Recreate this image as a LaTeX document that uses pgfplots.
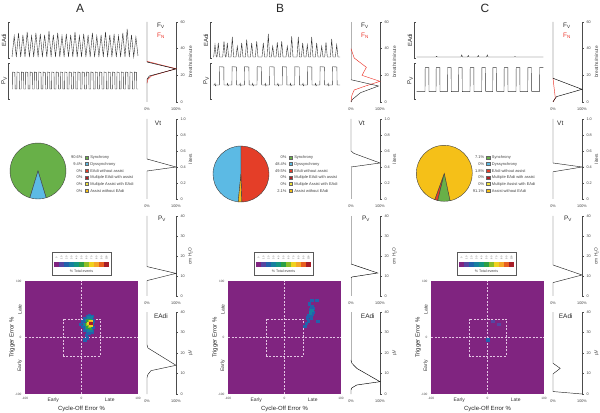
\documentclass[border=0pt]{standalone}
\usepackage{pgfplots}
\pgfplotsset{compat=1.18}
\usepackage{fontspec}
\setmainfont{Liberation Sans}
\definecolor{hpurple}{RGB}{128,36,128}
\definecolor{pgreen}{RGB}{104,176,72}
\definecolor{pblue}{RGB}{92,186,228}
\definecolor{pred}{RGB}{228,62,40}
\definecolor{pdred}{RGB}{176,32,36}
\definecolor{pyel}{RGB}{240,226,60}
\definecolor{porange}{RGB}{245,192,24}
\definecolor{fnred}{RGB}{235,50,40}
\definecolor{dashcol}{RGB}{228,196,228}
\definecolor{ev0}{RGB}{128,36,128}
\definecolor{ev1}{RGB}{86,70,162}
\definecolor{ev2}{RGB}{34,98,172}
\definecolor{ev3}{RGB}{22,128,160}
\definecolor{ev4}{RGB}{20,150,130}
\definecolor{ev5}{RGB}{44,160,70}
\definecolor{ev6}{RGB}{140,190,40}
\definecolor{ev7}{RGB}{240,210,30}
\definecolor{ev8}{RGB}{245,168,40}
\definecolor{ev9}{RGB}{232,96,32}
\definecolor{ev10}{RGB}{168,30,40}
\newcommand\tk{\fontsize{3.8}{4}\selectfont}
\tikzset{
 lg/.style={font=\fontsize{4}{4.5}\selectfont, text=black!75, inner sep=0.6bp},
 ew/.style={font=\fontsize{5}{6}\selectfont, text=black!80, inner sep=0pt},
 big/.style={font=\fontsize{6.5}{7}\selectfont, text=black!85, inner sep=0pt},
 cl/.style={font=\fontsize{2.4}{2.6}\selectfont, text=black!70, rotate=90, inner sep=0pt},
 dashl/.style={dash pattern=on 2bp off 1.5bp, dashcol, line width=0.5bp},
}
\pgfplotsset{
 /pgf/number format/assume math mode=true,
 trace/.style={scale only axis, width=132bp, height=36bp, xmin=0, xmax=132, ymin=0, ymax=36,
   axis x line=none, axis y line=left, axis line style={-, black!70, line width=0.5bp},
   ytick={0,36}, yticklabels={}, tick align=inside, major tick length=2bp,
   ytick style={black!70, line width=0.5bp},
   ylabel style={font=\fontsize{6}{7}\selectfont, text=black!85, at={(axis description cs:-0.03,0.5)}, anchor=center},
   clip=false, no markers, cycle list={{black!80, line width=0.3bp}}},
 dist/.style={scale only axis, width=29bp, xmin=0, xmax=100,
   axis y line=right, axis x line=bottom, x axis line style={draw=none},
   xtick={0,100}, xticklabels={0\%,100\%}, xtick style={draw=none},
   xticklabel style={yshift=-1bp},
   ytick align=outside, major tick length=1.8bp, ytick style={black!70, line width=0.4bp},
   y axis line style={-, black!70, line width=0.4bp},
   tick label style={font=\tk, text=black!75},
   yticklabel style={xshift=-0.8bp},
   ylabel style={font=\fontsize{4.8}{5}\selectfont, text=black!75, at={(axis description cs:1.5,0.5)}, anchor=center},
   clip=false, no markers, cycle list={{black!85, line width=0.45bp}},
   every axis plot/.append style={line width=0.45bp}},
 heat/.style={scale only axis, width=113bp, height=113bp, xmin=-100, xmax=100, ymin=-100, ymax=100,
   axis background/.style={fill=hpurple}, axis line style={draw=none},
   xtick={-100,0,100}, ytick={-100,0,100}, major tick length=0pt,
   tick label style={font=\fontsize{3.2}{3.5}\selectfont, text=black!70},
   xlabel={Cycle-Off Error \%}, ylabel={Trigger Error \%},
   label style={font=\fontsize{6}{7}\selectfont, text=black!85},
   xlabel style={at={(axis description cs:0.5,-0.133)}, anchor=center},
   ylabel style={at={(axis description cs:-0.115,0.5)}, anchor=center},
   clip=false},
 hs/.style={only marks, mark=square*, mark size=1.2bp, mark options={draw=#1, fill=#1}},
 cbar/.style={scale only axis, width=59bp, height=23bp, xmin=0, xmax=59, ymin=0, ymax=23,
   xtick=\empty, ytick=\empty, axis line style={black!65, line width=0.6bp}, clip=false},
 cb/.style={only marks, mark=square*, mark size=2bp, mark options={draw=#1, fill=#1}},
}
\newcommand\heatextras{%
 \addplot[dashl] coordinates {(0,-100) (0,100)};
 \addplot[dashl] coordinates {(-100,0) (100,0)};
 \addplot[dashl] coordinates {(-33,-33) (33,-33) (33,33) (-33,33) (-33,-33)};
 \node[ew, rotate=90] at (axis cs:-109,50) {Late};
 \node[ew, rotate=90] at (axis cs:-109,-50) {Early};
 \node[ew] at (axis cs:-50,-110.5) {Early};
 \node[ew] at (axis cs:50,-110.5) {Late};
}
\newcommand\cbarleg[2]{%
\begin{axis}[cbar, at={(#1bp,#2bp)}, anchor=south west]
 \addplot[cb=ev0] coordinates {(4.5,10.3)};
 \addplot[cb=ev1] coordinates {(9.5,10.3)};
 \addplot[cb=ev2] coordinates {(14.5,10.3)};
 \addplot[cb=ev3] coordinates {(19.5,10.3)};
 \addplot[cb=ev4] coordinates {(24.5,10.3)};
 \addplot[cb=ev5] coordinates {(29.5,10.3)};
 \addplot[cb=ev6] coordinates {(34.5,10.3)};
 \addplot[cb=ev7] coordinates {(39.5,10.3)};
 \addplot[cb=ev8] coordinates {(44.5,10.3)};
 \addplot[cb=ev9] coordinates {(49.5,10.3)};
 \addplot[cb=ev10] coordinates {(54.5,10.3)};
 \node[cl] at (axis cs:4.5,17.3) {0};
 \node[cl] at (axis cs:9.5,17.3) {10};
 \node[cl] at (axis cs:14.5,17.3) {20};
 \node[cl] at (axis cs:19.5,17.3) {30};
 \node[cl] at (axis cs:24.5,17.3) {40};
 \node[cl] at (axis cs:29.5,17.3) {50};
 \node[cl] at (axis cs:34.5,17.3) {60};
 \node[cl] at (axis cs:39.5,17.3) {70};
 \node[cl] at (axis cs:44.5,17.3) {80};
 \node[cl] at (axis cs:49.5,17.3) {90};
 \node[cl] at (axis cs:54.5,17.3) {100};
 \node[font=\fontsize{3.6}{4}\selectfont, text=black!75] at (axis cs:29.5,3.6) {\% Total events};
\end{axis}}
\newcommand\pielegend[9]{%
 \addplot[only marks, mark=square*, mark size=1.6bp, mark options={draw=black!60, fill=pgreen, line width=0.2bp}] coordinates {(#2,255.7)};
 \addplot[only marks, mark=square*, mark size=1.6bp, mark options={draw=black!60, fill=pblue, line width=0.2bp}] coordinates {(#2,249)};
 \addplot[only marks, mark=square*, mark size=1.6bp, mark options={draw=black!60, fill=pred, line width=0.2bp}] coordinates {(#2,242.3)};
 \addplot[only marks, mark=square*, mark size=1.6bp, mark options={draw=black!60, fill=pdred, line width=0.2bp}] coordinates {(#2,235.7)};
 \addplot[only marks, mark=square*, mark size=1.6bp, mark options={draw=black!60, fill=pyel, line width=0.2bp}] coordinates {(#2,229)};
 \addplot[only marks, mark=square*, mark size=1.6bp, mark options={draw=black!60, fill=porange, line width=0.2bp}] coordinates {(#2,222.3)};
 \node[lg, anchor=east] at (axis cs:#1,255.7) {#4};
 \node[lg, anchor=east] at (axis cs:#1,249) {#5};
 \node[lg, anchor=east] at (axis cs:#1,242.3) {#6};
 \node[lg, anchor=east] at (axis cs:#1,235.7) {#7};
 \node[lg, anchor=east] at (axis cs:#1,229) {#8};
 \node[lg, anchor=east] at (axis cs:#1,222.3) {#9};
 \node[lg, anchor=west] at (axis cs:#3,255.7) {Synchrony};
 \node[lg, anchor=west] at (axis cs:#3,249) {Dyssynchrony};
 \node[lg, anchor=west] at (axis cs:#3,242.3) {EAdi without assist};
 \node[lg, anchor=west] at (axis cs:#3,235.7) {Multiple EAdi with assist};
 \node[lg, anchor=west] at (axis cs:#3,229) {Multiple Assist with EAdi};
 \node[lg, anchor=west] at (axis cs:#3,222.3) {Assist without EAdi};
}
\newcommand\pieslice[5]{% center x, center y, start, end, colour
 \filldraw[fill=#5, draw=black!75, line width=0.4bp] (axis cs:#1,#2) -- ++(#3:28bp) arc[start angle=#3, end angle=#4, radius=28bp] -- cycle;}
\begin{document}
\begin{tikzpicture}
\useasboundingbox (0,0) rectangle (600bp,413bp);
% ---------------- canvas: titles, pies, pie legends
\begin{axis}[x=1bp, y=1bp, xmin=0, xmax=600, ymin=0, ymax=413, hide axis, anchor=south west, at={(0bp,0bp)}, clip=false]
 \node[font=\fontsize{12}{14}\selectfont, text=black!85] at (axis cs:80,405) {A};
 \node[font=\fontsize{12}{14}\selectfont, text=black!85] at (axis cs:280,405) {B};
 \node[font=\fontsize{12}{14}\selectfont, text=black!85] at (axis cs:485,405) {C};
 \pieslice{38}{242}{286.92}{613.08}{pgreen}
 \pieslice{38}{242}{253.08}{286.92}{pblue}
 \pieslice{241}{239}{90}{264.24}{pblue}
 \pieslice{241}{239}{264.24}{271.8}{porange}
 \pieslice{241}{239}{271.8}{450}{pred}
 \pieslice{444.3}{239.7}{250}{256.48}{pred}
 \pieslice{444.3}{239.7}{256.48}{282.04}{pgreen}
 \pieslice{444.3}{239.7}{282.04}{610}{porange}
 \pielegend{83.3}{86.3}{89.5}{90.6\%}{9.4\%}{0\%}{0\%}{0\%}{0\%}
 \pielegend{287.3}{290.3}{293.5}{0\%}{48.4\%}{49.5\%}{0\%}{0\%}{2.1\%}
 \pielegend{485}{488}{491.2}{7.1\%}{0\%}{1.8\%}{0\%}{0\%}{91.1\%}
\end{axis}
% ---------------- traces A
\begin{axis}[trace, at={(8bp,355bp)}, anchor=south west, ylabel={EAdi}]
\addplot coordinates {(4.0,1)(6.2,22)(8.3,1)(10.5,25)(12.7,1)(14.9,23)(17.0,1)(19.2,26)(21.4,1)(23.6,22)(25.7,1)(27.9,25)(30.1,1)(32.3,24)(34.4,1)(36.6,23)(38.8,1)(41.0,27)(43.1,1)(45.3,23)(47.5,1)(49.7,25)(51.8,1)(54.0,22)(56.1,1)(58.3,24)(60.5,1)(62.7,23)(64.8,1)(67.0,26)(69.2,1)(71.4,22)(73.5,1)(75.7,24)(77.9,1)(80.1,23)(82.2,1)(84.4,25)(86.6,1)(88.8,22)(90.9,1)(93.1,23)(95.3,1)(97.5,26)(99.6,1)(101.8,23)(103.9,1)(106.1,24)(108.3,1)(110.5,22)(112.6,1)(114.8,25)(117.0,1)(119.2,29)(121.3,1)(123.5,23)(125.7,1)(127.9,21)(130,2)};
\end{axis}
\begin{axis}[trace, at={(8bp,314bp)}, anchor=south west, ylabel={P\textsubscript{V}}]
\addplot coordinates {(4,10)(4.5,10)(4.7,27)(6.9,26.5)(7.1,10)(8.8,10)(9.0,27)(11.2,26.5)(11.4,10)(13.2,10)(13.4,27)(15.6,26.5)(15.8,10)(17.5,10)(17.7,27)(19.9,26.5)(20.1,10)(21.9,10)(22.1,27)(24.3,26.5)(24.5,10)(26.2,10)(26.4,27)(28.6,26.5)(28.8,10)(30.6,10)(30.8,27)(33.0,26.5)(33.2,10)(34.9,10)(35.1,27)(37.3,26.5)(37.5,10)(39.3,10)(39.5,27)(41.7,26.5)(41.9,10)(43.6,10)(43.8,27)(46.0,26.5)(46.2,10)(48.0,10)(48.2,27)(50.4,26.5)(50.6,10)(52.3,10)(52.5,27)(54.7,26.5)(54.9,10)(56.6,10)(56.8,27)(59.0,26.5)(59.2,10)(61.0,10)(61.2,27)(63.4,26.5)(63.6,10)(65.3,10)(65.5,27)(67.7,26.5)(67.9,10)(69.7,10)(69.9,27)(72.1,26.5)(72.3,10)(74.0,10)(74.2,27)(76.4,26.5)(76.6,10)(78.4,10)(78.6,27)(80.8,26.5)(81.0,10)(82.7,10)(82.9,27)(85.1,26.5)(85.3,10)(87.1,10)(87.3,27)(89.5,26.5)(89.7,10)(91.4,10)(91.6,27)(93.8,26.5)(94.0,10)(95.8,10)(96.0,27)(98.2,26.5)(98.4,10)(100.1,10)(100.3,27)(102.5,26.5)(102.7,10)(104.4,10)(104.6,27)(106.8,26.5)(107.0,10)(108.8,10)(109.0,27)(111.2,26.5)(111.4,10)(113.1,10)(113.3,27)(115.5,26.5)(115.7,10)(117.5,10)(117.7,27)(119.9,26.5)(120.1,10)(121.8,10)(122.0,27)(124.2,26.5)(124.4,10)(126.2,10)(126.4,27)(128.6,26.5)(128.8,10)(130,10)};
\end{axis}
% ---------------- traces B
\begin{axis}[trace, at={(210bp,355bp)}, anchor=south west, ylabel={EAdi}]
\addplot coordinates {(3,1)(3.7,1)(5,13.3)(6.3,1)(7,1)(8.3,15)(9.6,1)(12.7,1)(14,16.7)(15.3,1)(16,1)(17.3,15)(18.6,1)(21,1)(22.3,21)(23.6,1)(26,1)(27.3,11.7)(28.6,1)(30.4,1)(31.7,15)(33,1)(35.4,1)(36.7,18.3)(38,1)(40.4,1)(41.7,15)(43,1)(45.4,1)(46.7,16.7)(48,1)(52,1)(53.3,15)(54.6,1)(57,1)(58.3,24)(59.6,1)(61.4,1)(62.7,11.7)(64,1)(66,1)(67.3,15.7)(68.6,1)(70.4,1)(71.7,16.7)(73,1)(76,1)(77.3,11.7)(78.6,1)(80.4,1)(81.7,21.7)(83,1)(87,1)(88.3,21)(89.6,1)(91.4,1)(92.7,15)(94,1)(96,1)(97.3,13.3)(98.6,1)(100.4,1)(101.7,21)(103,1)(105.4,1)(106.7,15)(108,1)(110.4,1)(111.7,11.7)(113,1)(114.7,1)(116,15.7)(117.3,1)(120.4,1)(121.7,19)(123,1)(125.4,1)(126.7,13.3)(128,1)(130,1)};
\end{axis}
\begin{axis}[trace, at={(210bp,314bp)}, anchor=south west, ylabel={P\textsubscript{V}}]
\addplot coordinates {(3,14)(4.5,14)(5,15.5)(5.5,13.2)(6,14)(9.3,14)(9.5,32.3)(13.8,32)(14.0,14)(17.1,14)(17.6,15.5)(18.1,13.2)(18.6,14)(21.9,14)(22.1,32.3)(26.4,32)(26.6,14)(29.7,14)(30.2,15.5)(30.7,13.2)(31.2,14)(34.4,14)(34.6,32.3)(38.9,32)(39.1,14)(42.2,14)(42.7,15.5)(43.2,13.2)(43.7,14)(47.0,14)(47.2,32.3)(51.5,32)(51.7,14)(54.8,14)(55.3,15.5)(55.8,13.2)(56.3,14)(59.6,14)(59.8,32.3)(64.1,32)(64.3,14)(67.4,14)(67.9,15.5)(68.4,13.2)(68.9,14)(72.2,14)(72.4,32.3)(76.7,32)(76.9,14)(80.0,14)(80.5,15.5)(81.0,13.2)(81.5,14)(84.7,14)(84.9,32.3)(89.2,32)(89.4,14)(92.5,14)(93.0,15.5)(93.5,13.2)(94.0,14)(97.3,14)(97.5,32.3)(101.8,32)(102.0,14)(105.1,14)(105.6,15.5)(106.1,13.2)(106.6,14)(109.9,14)(110.1,32.3)(114.4,32)(114.6,14)(117.7,14)(118.2,15.5)(118.7,13.2)(119.2,14)(122.4,14)(122.6,32.3)(126.9,32)(127.1,14)(130,14)};
\end{axis}
% ---------------- traces C
\begin{axis}[trace, at={(414bp,355bp)}, anchor=south west, ylabel={EAdi}]
\addplot coordinates {(2.7,1)(22,1)(22.7,1.7)(23.4,1)(47,1)(47.7,3)(48.4,1)(53.6,1)(54.3,2.5)(55,1)(63.6,1)(64.3,2.5)(65,1)(72.6,1)(73.3,3)(74,1)(100.3,1)(101,1.5)(101.7,1)(129.3,1)};
\end{axis}
\begin{axis}[trace, at={(414bp,314bp)}, anchor=south west, ylabel={P\textsubscript{V}}]
\addplot coordinates {(2.7,7.3)(11,7.3)(11.2,31.3)(14.8,31.3)(15,7.3)(22,7.3)(22.2,31.3)(25.8,31.3)(26,7.3)(33.3,7.3)(33.5,31.3)(37.1,31.3)(37.3,7.3)(44.3,7.3)(44.5,31.3)(48.1,31.3)(48.3,7.3)(56,7.3)(56.2,31.3)(59.8,31.3)(60,7.3)(67.7,7.3)(67.9,31.3)(71.5,31.3)(71.7,7.3)(78.7,7.3)(78.9,31.3)(82.5,31.3)(82.7,7.3)(90,7.3)(90.2,31.3)(93.8,31.3)(94,7.3)(102,7.3)(102.2,31.3)(105.8,31.3)(106,7.3)(113.7,7.3)(113.9,31.3)(117.5,31.3)(117.7,7.3)(125.3,7.3)(125.5,31.3)(129.3,31.3)};
\end{axis}
% ---------------- distributions A
\begin{axis}[dist, at={(147bp,311bp)}, anchor=south west, height=80bp, ymin=0, ymax=60, ytick={0,20,40,60}, ylabel={breaths/minute}]
\addplot[fnred] coordinates {(0,14)(3,17)(15,19.5)(100,25)(0,30.5)};
\addplot coordinates {(0,60)(0,30)(100,24.8)(8,19.5)(0,17)(0,0)};
\node[big] at (axis cs:48,57) {F\textsubscript{V}};
\node[big, text=fnred] at (axis cs:48,49.5) {F\textsubscript{N}};
\end{axis}
\begin{axis}[dist, at={(147bp,214bp)}, anchor=south west, height=80bp, ymin=0, ymax=1, ytick={0,0.2,0.4,0.6,0.8,1}, yticklabels={0,0.2,0.4,0.6,0.8,1.0}, ylabel={liters}]
\addplot coordinates {(0,1)(0,0.5)(100,0.4)(0,0.35)(0,0)};
\node[big] at (axis cs:38,0.94) {Vt};
\end{axis}
\begin{axis}[dist, at={(147bp,117bp)}, anchor=south west, height=80bp, ymin=0, ymax=40, ytick={0,10,20,30,40}, ylabel={cm H\textsubscript{2}O}]
\addplot coordinates {(0,40)(0,14.7)(100,11.3)(0,7.7)(0,0)};
\node[big] at (axis cs:52,38.5) {P\textsubscript{V}};
\end{axis}
\begin{axis}[dist, at={(147bp,19bp)}, anchor=south west, height=82bp, ymin=0, ymax=40, ytick={0,10,20,30,40}, ylabel={µV}]
\addplot coordinates {(0,40)(0,24)(3,22.5)(14,21.5)(100,14)(14,11.4)(3,9.5)(0,8)(0,0)};
\node[big] at (axis cs:48,38) {EAdi};
\end{axis}
% ---------------- distributions B
\begin{axis}[dist, at={(351bp,311bp)}, anchor=south west, height=80bp, ymin=0, ymax=60, ytick={0,20,40,60}, ylabel={breaths/minute}]
\addplot[black!30] coordinates {(0,60)(0,16.7)};
\addplot[fnred] coordinates {(0,40)(11,33)(53,26)(38,20)(100,15.5)(50,12)(11,9)(3,5)(0,0)};
\addplot coordinates {(0,16.7)(95,12)(33,7)(5,2)(0,0)};
\node[big] at (axis cs:48,57) {F\textsubscript{V}};
\node[big, text=fnred] at (axis cs:48,49.5) {F\textsubscript{N}};
\end{axis}
\begin{axis}[dist, at={(351bp,214bp)}, anchor=south west, height=80bp, ymin=0, ymax=1, ytick={0,0.2,0.4,0.6,0.8,1}, yticklabels={0,0.2,0.4,0.6,0.8,1.0}, ylabel={liters}]
\addplot coordinates {(0,1)(0,0.6)(10,0.57)(100,0.45)(0,0.4)};
\addplot[black!30] coordinates {(0,0.4)(0,0)};
\node[big] at (axis cs:37,0.94) {Vt};
\end{axis}
\begin{axis}[dist, at={(351bp,117bp)}, anchor=south west, height=80bp, ymin=0, ymax=40, ytick={0,10,20,30,40}, ylabel={cm H\textsubscript{2}O}]
\addplot[black!30] coordinates {(0,40)(0,16)};
\addplot coordinates {(0,16)(92,11.5)(3,9.5)(0,9)};
\addplot[black!30] coordinates {(0,9)(0,0)};
\node[big] at (axis cs:52,38.5) {P\textsubscript{V}};
\end{axis}
\begin{axis}[dist, at={(351bp,19bp)}, anchor=south west, height=82bp, ymin=0, ymax=40, ytick={0,10,20,30,40}, ylabel={µV}]
\addplot[black!30] coordinates {(0,40)(0,16.6)};
\addplot coordinates {(0,16.6)(3,15)(20,12.5)(100,6)(20,4.4)(3,3)(0,2)(0,0)};
\node[big] at (axis cs:58,38) {EAdi};
\end{axis}
% ---------------- distributions C
\begin{axis}[dist, at={(553bp,311bp)}, anchor=south west, height=80bp, ymin=0, ymax=60, ytick={0,20,40,60}, ylabel={breaths/minute}]
\addplot[fnred] coordinates {(0,18)(3,12)(8,3)(0,0)};
\addplot coordinates {(0,60)(0,17.8)(100,9.5)(12,4)(0,0.2)(0,0)};
\node[big] at (axis cs:48,57) {F\textsubscript{V}};
\node[big, text=fnred] at (axis cs:48,49.5) {F\textsubscript{N}};
\end{axis}
\begin{axis}[dist, at={(553bp,214bp)}, anchor=south west, height=80bp, ymin=0, ymax=1, ytick={0,0.2,0.4,0.6,0.8,1}, yticklabels={0,0.2,0.4,0.6,0.8,1.0}, ylabel={liters}]
\addplot coordinates {(0,1)(0,0.45)(100,0.4)(0,0.34)(0,0)};
\node[big] at (axis cs:25,0.94) {Vt};
\end{axis}
\begin{axis}[dist, at={(553bp,117bp)}, anchor=south west, height=80bp, ymin=0, ymax=40, ytick={0,10,20,30,40}, ylabel={cm H\textsubscript{2}O}]
\addplot coordinates {(0,40)(0,15.5)(100,10.5)(0,6.7)(0,0)};
\node[big] at (axis cs:52,38.5) {P\textsubscript{V}};
\end{axis}
\begin{axis}[dist, at={(553bp,19bp)}, anchor=south west, height=82bp, ymin=0, ymax=40, ytick={0,10,20,30,40}, ylabel={µV}]
\addplot coordinates {(0,40)(0,15)(25,12.5)(0,9.8)(0,1.2)(100,0)};
\node[big] at (axis cs:44,38) {EAdi};
\end{axis}
% ---------------- heat maps
\begin{axis}[heat, at={(25bp,19bp)}, anchor=south west]
\heatextras
\addplot[hs=ev2] coordinates {(2,28) (2,20) (6,34) (6,14) (10,38) (10,10) (14,40) (14,8) (18,38) (18,10) (21,30) (21,18) (8,4) (10,0) (6,-4) (-2,24)};
\addplot[hs=ev3] coordinates {(5,24) (8,31) (8,17) (12,35) (12,13) (16,35) (16,13) (19,25)};
\addplot[hs=ev5] coordinates {(8,24) (11,30) (11,18) (15,31) (15,17)};
\addplot[hs=ev6] coordinates {(11,24) (14,29) (14,20)};
\addplot[hs=ev7] coordinates {(13,25) (16,28) (16,22) (17,25)};
\addplot[hs=ev8] coordinates {(15,26)};
\addplot[hs=ev10] coordinates {(16,25)};
\end{axis}
\begin{axis}[heat, at={(228bp,19bp)}, anchor=south west]
\heatextras
\addplot[hs=ev2] coordinates {(48,66) (57,66) (59,29) (36,20) (38,25) (40,35) (42,30) (44,60) (50,52) (47,35) (48,55) (42,40) (45,38) (50,45) (48,42) (45,50)};
\addplot[hs=ev3] coordinates {(45,45) (48,48) (46,44)};
\end{axis}
\begin{axis}[heat, at={(431bp,19bp)}, anchor=south west]
\heatextras
\addplot[hs=ev1] coordinates {(9.5,29) (19.5,24)};
\addplot[hs=ev2] coordinates {(0,-4)};
\end{axis}
% ---------------- colour legends
\cbarleg{52}{138}
\cbarleg{254}{138}
\cbarleg{457}{138}
\end{tikzpicture}
\end{document}
